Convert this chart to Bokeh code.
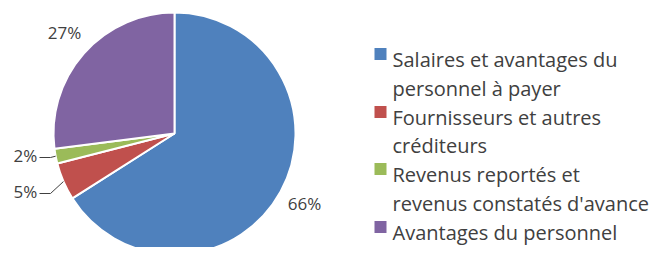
import math
from bokeh.plotting import figure
from bokeh.models import Range1d, ColumnDataSource
from bokeh.core.properties import value
from bokeh.embed import file_html
from bokeh.resources import INLINE

categories = ["Salaires et avantages du personnel à payer",
              "Fournisseurs et autres créditeurs",
              "Revenus reportés et revenus constatés d'avance",
              "Avantages du personnel"]
legend_lines = [["Salaires et avantages du", "personnel à payer"],
                ["Fournisseurs et autres", "créditeurs"],
                ["Revenus reportés et", "revenus constatés d'avance"],
                ["Avantages du personnel"]]
values = [66, 5, 2, 27]
pct_labels = ["66%", "5%", "2%", "27%"]
colors = ["#4F81BD", "#C0504D", "#9BBB59", "#8064A2"]

W, H = 657, 247
FONT = "Open Sans"

p = figure(width=W, height=H, output_backend="svg", toolbar_location=None,
           x_range=Range1d(0, W), y_range=Range1d(255 - H, 255),
           min_border=0)
p.axis.visible = False
p.grid.visible = False
p.outline_line_color = None
p.background_fill_color = "white"
p.border_fill_color = "white"

# pie geometry (data coordinates: x = ref px, y = 255 - ref px)
cx, cy, r = 174, 255 - 133, 121
total = sum(values)
starts, ends = [], []
a = math.pi / 2
for v in values:
    starts.append(a)
    a -= v / total * 2 * math.pi
    ends.append(a)

src = ColumnDataSource(dict(start=starts, end=ends, color=colors))
p.wedge(x=cx, y=cy, radius=r, start_angle="start", end_angle="end",
        direction="clock", fill_color="color", line_color="white",
        line_width=2, source=src)

# data labels
lab_pos = [(304, 203), (25, 191), (25, 155), (64, 32)]
p.text(x=[q[0] for q in lab_pos], y=[255 - q[1] for q in lab_pos], text=pct_labels,
       text_align="center", text_baseline="middle", text_font=value(FONT),
       text_font_size="17px", text_color="#404040")

# leader lines for small slices
mids = [(s + e) / 2 for s, e in zip(starts, ends)]
lx, ly = [], []
for i, (hx, hy) in [(1, (39, 193)), (2, (39, 157))]:
    ex = cx + r * math.cos(mids[i])
    ey = cy + r * math.sin(mids[i])
    kx = hx + 11
    lx.append([hx, kx, ex])
    ly.append([255 - hy, 255 - hy, ey])
p.multi_line(xs=lx, ys=ly, line_color="#404040", line_width=1)

# legend
baselines = [59, 88, 117, 145, 174, 203, 232]
k = 0
for i, lines in enumerate(legend_lines):
    p.rect(x=[380], y=[255 - (baselines[k] - 5.5)], width=12, height=12,
           fill_color=colors[i], line_color=None)
    for t in lines:
        p.text(x=[392], y=[255 - baselines[k]], text=[t], text_align="left",
               text_baseline="alphabetic", text_font=value(FONT),
               text_font_size="20px", text_color="#404040")
        k += 1

open("out.html", "w").write(file_html(p, INLINE))
